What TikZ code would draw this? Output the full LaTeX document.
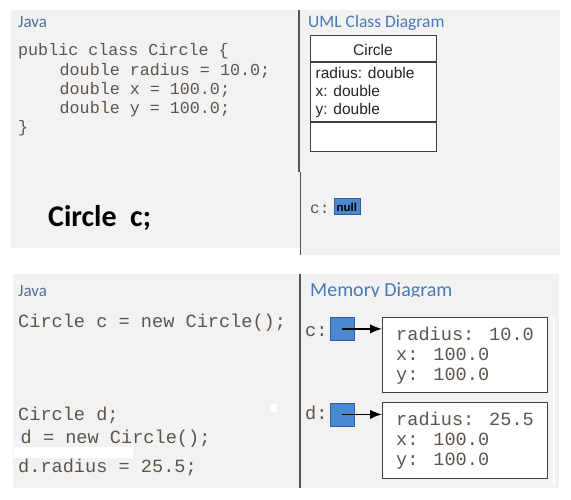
\documentclass[tikz,border=0pt]{standalone}
\usepackage{fontspec}
\usetikzlibrary{arrows.meta}
\newfontfamily\myCal{Carlito}
\newfontfamily\myMono{Liberation Mono}
\newfontfamily\myArial{Liberation Sans}
\definecolor{bggray}{HTML}{F2F2F2}
\definecolor{codecol}{RGB}{95,84,74}
\definecolor{javacol}{RGB}{80,110,150}
\definecolor{headcol}{RGB}{72,122,182}
\definecolor{refblue}{RGB}{74,137,210}
\definecolor{refedge}{RGB}{50,95,155}
\definecolor{linecol}{RGB}{85,85,85}
\begin{document}
\begin{tikzpicture}[x=1pt,y=-1pt,
  txt/.style={inner sep=0pt,anchor=base west},
  javalbl/.style={txt,font=\myCal\fontsize{17}{20}\selectfont,text=javacol},
  headlbl/.style={txt,font=\myCal\fontsize{17.5}{20}\selectfont,text=headcol},
  codetop/.style={txt,font=\myMono\fontsize{16.7}{20}\selectfont,text=codecol},
  codebot/.style={txt,font=\myMono\fontsize{18.6}{22}\selectfont,text=codecol},
  umltxt/.style={txt,font=\myArial\fontsize{15.5}{18}\selectfont,text=black!85},
  objbox/.style={draw=black!75,line width=1.3pt,fill=white,inner sep=0pt,anchor=north west},
  refbox/.style={draw=refedge,line width=0.8pt,fill=refblue,inner sep=0pt,anchor=north west},
  divider/.style={draw=linecol,line width=1.4pt},
  ptr/.style={line width=1.5pt,-{Latex[length=12pt,width=9.5pt]}}
]
\useasboundingbox (0,0) rectangle (571,500);
% backgrounds
\fill[bggray] (11,10) rectangle (300,248);
\fill[bggray] (300,10) rectangle (560,255);
\fill[bggray] (13,274) rectangle (559,488);
\fill[white] (552.5,317) rectangle (554.5,485);
\fill[white] (270,404) rectangle (276.5,412);
\fill[white] (14,447) rectangle (133,458);
% dividers
\coordinate (d1a) at (299,10);
\coordinate (d1b) at (299,172);
\coordinate (d2a) at (300.5,172);
\coordinate (d2b) at (300.5,255);
\coordinate (d3a) at (300,274);
\coordinate (d3b) at (300,488);
\draw[divider] (d1a) -- (d1b);
\draw[divider] (d2a) -- (d2b);
\draw[divider] (d3a) -- (d3b);

% ---------- top left
\node[javalbl] (java1) at (18,28) {Java};
\node[codetop] (l1) at (18,56) {public class Circle \{};
\node[codetop] (l2) at (59.5,76) {double radius = 10.0;};
\node[codetop] (l3) at (59.5,95) {double x = 100.0;};
\node[codetop] (l4) at (59.5,114) {double y = 100.0;};
\node[codetop] (l5) at (18,133) {\}};
\node[txt,font=\myCal\bfseries\fontsize{30}{34}\selectfont] (decl) at (48,226) {Circle\ \ c;};

% ---------- top right
\node[headlbl] (uml) at (308,28) {UML Class Diagram};
\node[objbox,minimum width=126pt,minimum height=116pt] (cls) at (310,35) {};
\coordinate (h1a) at (310,62);
\coordinate (h1b) at (436,62);
\coordinate (h2a) at (310,122);
\coordinate (h2b) at (436,122);
\draw[black!75,line width=1.3pt] (h1a) -- (h1b);
\draw[black!75,line width=1.3pt] (h2a) -- (h2b);
\node[umltxt,anchor=base] (cname) at (373,56) {Circle};
\node[umltxt] (a1) at (315.5,79) {radius: double};
\node[umltxt] (a2) at (315.5,97) {x: double};
\node[umltxt] (a3) at (315.5,115) {y: double};
\node[txt,font=\myMono\fontsize{16}{18}\selectfont,text=codecol] (cvar0) at (310,214) {c:};
\node[refbox,minimum width=26pt,minimum height=16pt] (nullbox) at (333.5,198.5) {};
\node[inner sep=0pt,font=\myArial\bfseries\fontsize{11.5}{13}\selectfont] (nulltxt) at (nullbox.center) {null};

% ---------- bottom left
\node[javalbl] (java2) at (18,297) {Java};
\node[codebot] (b1) at (18,327) {Circle c = new Circle();};
\node[codebot] (b2) at (18,420) {Circle d;};
\node[codebot] (b3) at (20.5,443) {d = new Circle();};
\node[codebot] (b4) at (18,472) {d.radius = 25.5;};

% ---------- bottom right
\begin{scope}
\clip (305,276) rectangle (470,296.5);
\node[txt,font=\myCal\fontsize{20}{24}\selectfont,text=headcol] (mem) at (310,296) {Memory Diagram};
\end{scope}
\node[codebot] (cvar) at (305,336) {c:};
\node[refbox,minimum width=24pt,minimum height=23pt] (cbox) at (330,317) {};
\node[objbox,minimum width=165pt,minimum height=75pt] (cobj) at (382,317) {};
\node[codebot] (c1) at (396,340) {radius: 10.0};
\node[codebot] (c2) at (396,360.5) {x: 100.0};
\node[codebot] (c3) at (396,380.5) {y: 100.0};
\draw[ptr] (cbox.center) -- (cbox.center -| cobj.west);

\node[codebot] (dvar) at (305,419) {d:};
\node[refbox,minimum width=24pt,minimum height=23pt] (dbox) at (330,402.5) {};
\node[objbox,minimum width=165pt,minimum height=76pt] (dobj) at (382,402) {};
\node[codebot] (e1) at (396,425) {radius: 25.5};
\node[codebot] (e2) at (396,445) {x: 100.0};
\node[codebot] (e3) at (396,465) {y: 100.0};
\draw[ptr] (dbox.center) -- (dbox.center -| dobj.west);
\end{tikzpicture}
\end{document}
